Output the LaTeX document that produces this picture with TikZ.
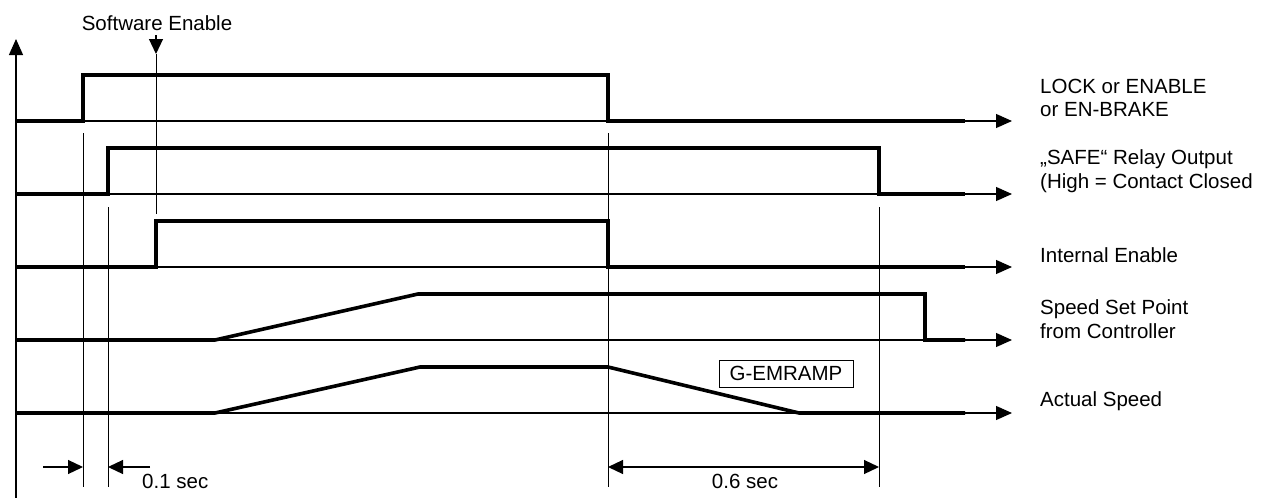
\documentclass[tikz,border=0pt]{standalone}
\usepackage{fontspec}
\setmainfont{Liberation Sans}
\usetikzlibrary{arrows.meta, positioning}

\begin{document}
\begin{tikzpicture}[x=1pt, y=-1pt,
      signal/.style={line width=3.6pt, line join=miter},
      timeline/.style={line width=1.2pt, -{Triangle[length=16pt, width=14pt]}},
      guide/.style={line width=1pt},
      dim/.style={line width=1.2pt, -{Triangle[length=15pt, width=14pt]}},
      lbl/.style={anchor=west, align=left, inner sep=0pt, font=\fontsize{20.5}{23.5}\selectfont},
      txt/.style={inner sep=0pt, font=\fontsize{20.5}{23.5}\selectfont},
      rampbox/.style={draw, line width=1pt, minimum width=134pt, minimum height=27pt, inner sep=0pt, font=\fontsize{20.5}{23.5}\selectfont},
    ]
    \useasboundingbox (0,0) rectangle (1275,498);

    % Axis and time lines
    \coordinate (ax0) at (16,498);
    \coordinate (ax1) at (16,39);
    \draw[timeline] (ax0) -- (ax1);
    \foreach \y in {121,194,267,340,413}
      \draw[timeline] (16,\y) -- (1012,\y);

    % Signals
    \draw[signal] (16,121) -- (83,121) -- (83,75) -- (608,75) -- (608,121) -- (965,121);
    \draw[signal] (16,194) -- (108,194) -- (108,148) -- (879,148) -- (879,194) -- (965,194);
    \draw[signal] (16,267) -- (156,267) -- (156,221) -- (608,221) -- (608,267) -- (965,267);
    \draw[signal] (16,340) -- (215,340) -- (418,294) -- (925,294) -- (925,340) -- (965,340);
    \draw[signal] (16,413) -- (215,413) -- (420,367) -- (608,367) -- (799,413) -- (965,413);

    % Guide lines
    \coordinate (g1a) at (83,133);  \coordinate (g1b) at (83,487);
    \coordinate (g2a) at (108,207); \coordinate (g2b) at (108,487);
    \coordinate (g3a) at (608,133); \coordinate (g3b) at (608,487);
    \coordinate (g4a) at (879,207); \coordinate (g4b) at (879,487);
    \draw[guide] (g1a) -- (g1b);
    \draw[guide] (g2a) -- (g2b);
    \draw[guide] (g3a) -- (g3b);
    \draw[guide] (g4a) -- (g4b);

    % Software enable
    \node[txt] (swen) at (157,23) {Software Enable};
    \coordinate (sw0) at (156,35);
    \coordinate (sw1) at (156,54);
    \coordinate (sw2) at (156,214);
    \draw[dim] (sw0) -- (sw1);
    \draw[guide] (sw1) -- (sw2);

    % Time spans
    \coordinate (d1a) at (43,467);
    \coordinate (d1b) at (150,467);
    \draw[dim] (d1a) -- (g1a |- d1a);
    \draw[dim] (d1b) -- (g2a |- d1b);
    \node[txt, anchor=west] (t01) at (142,481) {0.1 sec};
    \draw[dim, {Triangle[length=15pt, width=14pt]}-{Triangle[length=15pt, width=14pt]}] (g3a |- d1a) -- (g4a |- d1a);
    \node[txt] (t06) at (745,481) {0.6 sec};

    \node[rampbox] (gramp) at (786,373.5) {G-EMRAMP};

    % Labels
    \node[lbl] (lock) at (1040,98) {LOCK or ENABLE\\or EN-BRAKE};
    \node[lbl] (safe) at (1040,171) {„SAFE“ Relay Output\\(High = Contact Closed};
    \node[lbl] (inten) at (1040,255) {Internal Enable};
    \node[lbl] (setp) at (1040,319) {Speed Set Point\\from Controller};
    \node[lbl] (act) at (1040,401) {Actual Speed};

  \end{tikzpicture}
\end{document}
